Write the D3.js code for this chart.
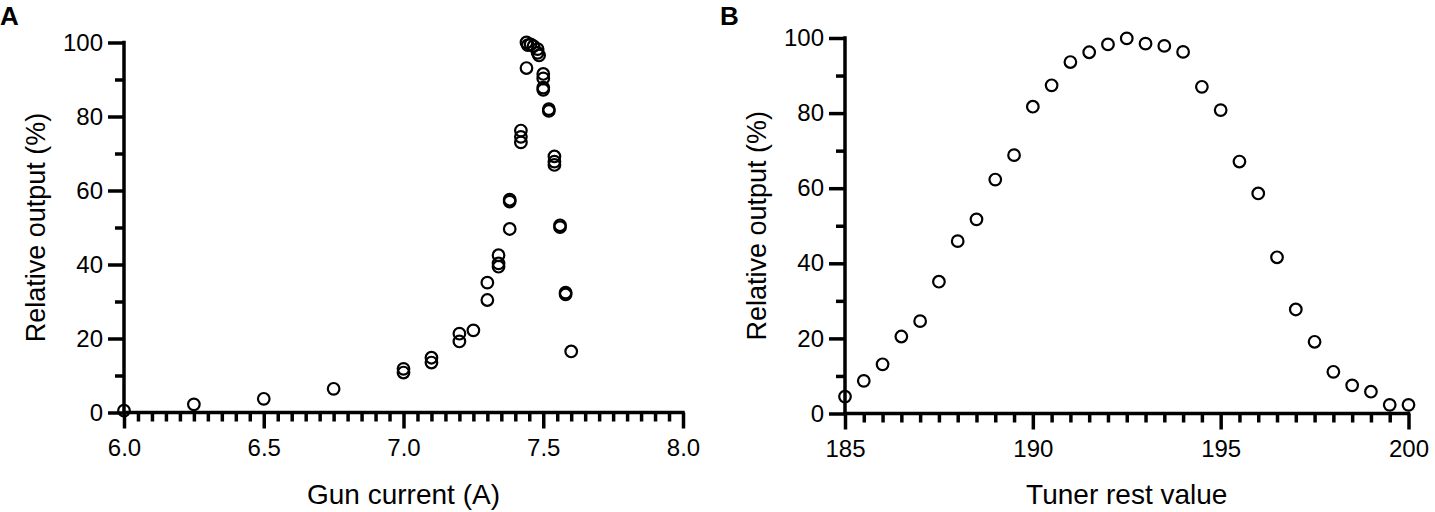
<!DOCTYPE html>
<html>
<head>
<meta charset="utf-8">
<script src="https://cdn.jsdelivr.net/npm/d3@7/dist/d3.min.js"></script>
<style>
  html, body { margin: 0; padding: 0; background: #fff; }
  svg { display: block; }
  text { font-family: "Liberation Sans", Arial, Helvetica, sans-serif; fill: #000; }
</style>
</head>
<body>
<svg id="chart" width="1435" height="512"></svg>
<script>
// ---- Panel A data: Gun current (A) vs relative output (%)
const gunCurrent = [6.0, 6.25, 6.5, 6.75, 7.0, 7.0, 7.1, 7.1, 7.2, 7.2, 7.25, 7.3, 7.3,
  7.34, 7.34, 7.34, 7.38, 7.38, 7.38, 7.42, 7.42, 7.42, 7.44, 7.44, 7.445, 7.455, 7.465,
  7.48, 7.48, 7.485, 7.5, 7.5, 7.5, 7.5, 7.52, 7.52, 7.54, 7.54, 7.54, 7.56, 7.56, 7.58, 7.58, 7.6];
const gunOutput = [0.5, 2.2, 3.7, 6.4, 11.8, 10.8, 14.8, 13.5, 21.3, 19.2, 22.2, 35.1, 30.4,
  42.5, 40.3, 39.4, 49.6, 57.5, 57.0, 76.2, 74.5, 73.0, 93.1, 100, 99.3, 99.5, 99.0,
  98.2, 97.2, 96.5, 91.5, 90.3, 87.8, 87.2, 82.0, 81.5, 69.2, 67.8, 66.9, 50.6, 50.1, 32.4, 31.9, 16.5];

// ---- Panel B data: Tuner rest value vs relative output (%)
const tunerRest = [185, 185.5, 186, 186.5, 187, 187.5, 188, 188.5, 189, 189.5, 190, 190.5,
  191, 191.5, 192, 192.5, 193, 193.5, 194, 194.5, 195, 195.5, 196, 196.5, 197, 197.5,
  198, 198.5, 199, 199.5, 200];
const tunerOutput = [4.5, 8.7, 13.1, 20.5, 24.6, 35.1, 45.9, 51.7, 62.3, 68.8, 81.7, 87.4,
  93.6, 96.2, 98.3, 99.9, 98.5, 97.9, 96.3, 87.0, 80.8, 67.1, 58.6, 41.6, 27.7, 19.1,
  11.1, 7.5, 5.8, 2.3, 2.3];

// ---- Tick values
const yMajor = [0, 20, 40, 60, 80, 100];
const yMinor = [10, 30, 50, 70, 90];
const gunMajor = [6.0, 6.5, 7.0, 7.5, 8.0];
const gunMinorStep = 0.05;
const tunerMajor = [185, 190, 195, 200];
const tunerMinorStep = 0.5;

const svg = d3.select("#chart");

function panel(cfg) {
  const g = svg.append("g");
  const x = d3.scaleLinear().domain(cfg.xDomain).range([cfg.left, cfg.right]);
  const y = d3.scaleLinear().domain([0, 100]).range([cfg.bottom, cfg.top]);

  const minor = d3.range(Math.round((cfg.xDomain[1] - cfg.xDomain[0]) / cfg.minorStep) + 1)
    .map(i => cfg.xDomain[0] + i * cfg.minorStep)
    .filter(v => !cfg.xMajor.some(m => Math.abs(m - v) < 1e-6));

  const axStyle = sel => {
    sel.selectAll("path").attr("stroke", "#000").attr("stroke-width", 3.5);
    sel.selectAll("line").attr("stroke", "#000").attr("stroke-width", 3.5);
    sel.selectAll("text").style("font-size", "24px").attr("fill", "#000");
  };

  // minor x ticks
  g.append("g").attr("transform", `translate(0,${cfg.bottom})`)
    .call(d3.axisBottom(x).tickValues(minor).tickSize(9).tickSizeOuter(0).tickFormat(""))
    .call(axStyle).call(s => s.select("path").remove());
  // major x ticks
  g.append("g").attr("transform", `translate(0,${cfg.bottom})`)
    .call(d3.axisBottom(x).tickValues(cfg.xMajor).tickSize(16).tickSizeOuter(0)
      .tickPadding(10).tickFormat(cfg.xFormat))
    .call(axStyle)
    .call(s => s.select("path").attr("d", `M${cfg.left - 1.75},0H${cfg.right + 1.75}`));

  // minor y ticks
  g.append("g").attr("transform", `translate(${cfg.left},0)`)
    .call(d3.axisLeft(y).tickValues(yMinor).tickSize(9).tickSizeOuter(0).tickFormat(""))
    .call(axStyle).call(s => s.select("path").remove());
  // major y ticks
  g.append("g").attr("transform", `translate(${cfg.left},0)`)
    .call(d3.axisLeft(y).tickValues(yMajor).tickSize(16).tickSizeOuter(0).tickPadding(5)
      .tickFormat(d3.format("d")))
    .call(axStyle)
    .call(s => s.select("path").attr("d", `M0,${cfg.top - 1.75}V${cfg.bottom + 1.75}`));

  // points
  g.append("g").selectAll("circle")
    .data(cfg.xs.map((v, i) => [v, cfg.ys[i]]))
    .join("circle")
    .attr("cx", d => x(d[0]))
    .attr("cy", d => y(d[1]))
    .attr("r", 5.8)
    .attr("fill", "none")
    .attr("stroke", "#000")
    .attr("stroke-width", 2.2);

  // axis titles
  g.append("text")
    .attr("x", (cfg.left + cfg.right) / 2)
    .attr("y", 504)
    .attr("text-anchor", "middle")
    .style("font-size", "28px")
    .text(cfg.xTitle);

  g.append("text")
    .attr("transform", `translate(${cfg.left - 79.5},${(cfg.top + cfg.bottom) / 2}) rotate(-90)`)
    .attr("text-anchor", "middle")
    .style("font-size", "27px")
    .text("Relative output (%)");

  // panel letter
  g.append("text")
    .attr("x", cfg.letterX)
    .attr("y", 25)
    .style("font-size", "26px")
    .style("font-weight", "bold")
    .text(cfg.letter);
}

panel({
  xDomain: [6, 8], left: 124, right: 683, top: 42.5, bottom: 412.5,
  xMajor: gunMajor, minorStep: gunMinorStep, xFormat: d3.format(".1f"),
  xs: gunCurrent, ys: gunOutput, xTitle: "Gun current (A)", letter: "A", letterX: 0
});

panel({
  xDomain: [185, 200], left: 845, right: 1408.5, top: 38, bottom: 413.5,
  xMajor: tunerMajor, minorStep: tunerMinorStep, xFormat: d3.format("d"),
  xs: tunerRest, ys: tunerOutput, xTitle: "Tuner rest value", letter: "B", letterX: 720
});
</script>
</body>
</html>
